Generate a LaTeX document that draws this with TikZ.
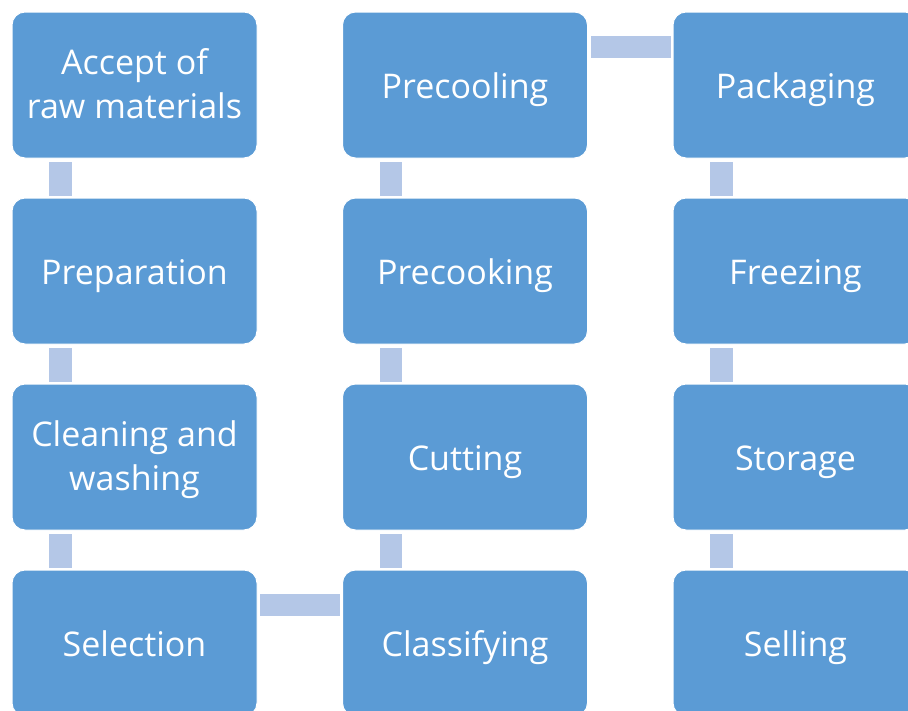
\documentclass[tikz,border=0pt]{standalone}
\usepackage{fontspec}
\setmainfont{Open Sans}
\usetikzlibrary{calc}
\definecolor{boxblue}{HTML}{5B9BD5}
\definecolor{linkblue}{HTML}{B4C7E7}
\tikzset{
  stage/.style={rectangle, rounded corners=13pt, fill=boxblue, draw=white,
    line width=1pt, minimum width=245pt, minimum height=146pt,
    text=white, align=center, inner sep=0pt,
    font=\fontsize{34}{44}\selectfont},
  % fixed ascent and descent so labels sit on a common baseline
  oneline/.style={stage, text height=36pt, text depth=9pt},
  twoline/.style={stage, text height=76pt, text depth=9pt},
  link/.style={fill=linkblue}
}
\begin{document}
\begin{tikzpicture}[x=1pt, y=-1pt]
  \useasboundingbox (0,0) rectangle (908,710);
  \clip (0,0) rectangle (908,710);
  % first column, top to bottom
  \node[twoline] (accept) at (134.5,85) {Accept of\\raw materials};
  \node[oneline] (prep)   at (134.5,271) {Preparation};
  \node[twoline] (clean)  at (134.5,457) {Cleaning and\\washing};
  \node[oneline] (select) at (134.5,643) {Selection};
  % second column, bottom to top
  \node[oneline] (class)  at (465,643) {Classifying};
  \node[oneline] (cut)    at (465,457) {Cutting};
  \node[oneline] (cook)   at (465,271) {Precooking};
  \node[oneline] (cool)   at (465,85)  {Precooling};
  % third column, top to bottom
  \node[oneline] (pack)   at (795.5,85)  {Packaging};
  \node[oneline] (freeze) at (795.5,271) {Freezing};
  \node[oneline] (store)  at (795.5,457) {Storage};
  \node[oneline] (sell)   at (795.5,643) {Selling};
  % vertical links between stacked stages
  \foreach \a/\b in {accept/prep, prep/clean, clean/select,
                     cool/cook, cook/cut, cut/class,
                     pack/freeze, freeze/store, store/sell}
    \fill[link] ($(\a.south west)+(37.5,3)$) rectangle ($(\b.north west)+(60,-2)$);
  % horizontal links between columns
  \foreach \a/\b in {select/class, cool/pack}
    \fill[link] ($(\a.north east)+(2.5,24)$) rectangle ($(\b.north west)+(-2,46.5)$);
\end{tikzpicture}
\end{document}
